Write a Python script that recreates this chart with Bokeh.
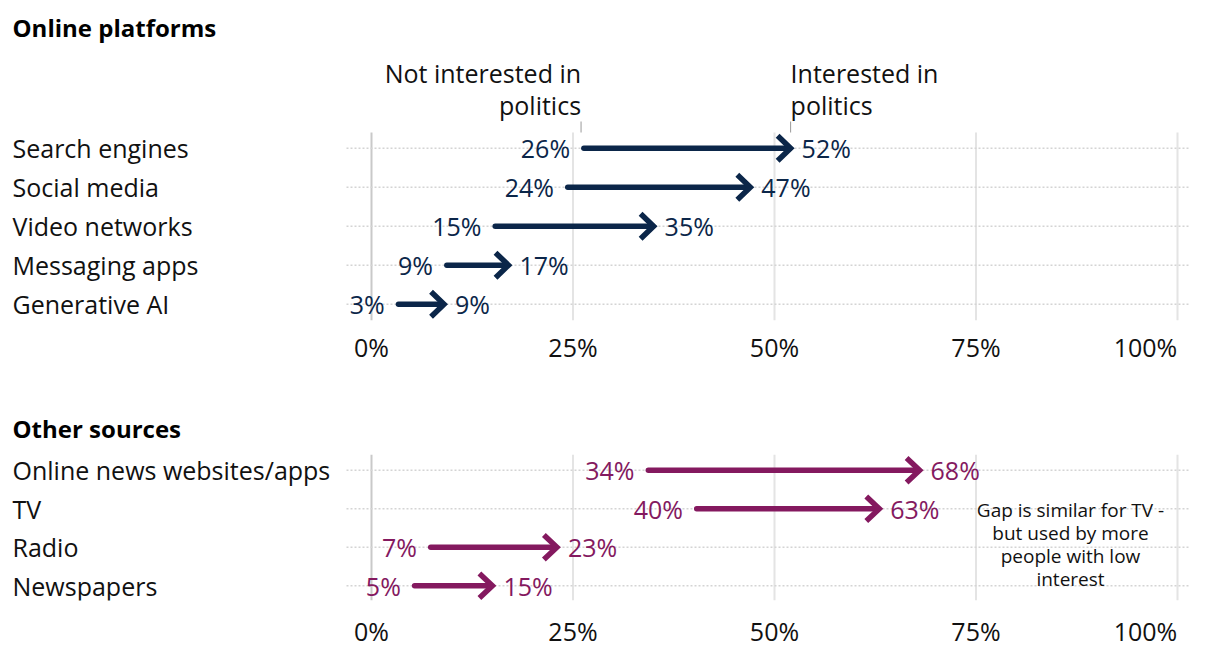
from bokeh.plotting import figure
from bokeh.layouts import column
from bokeh.models import ColumnDataSource, Range1d, FixedTicker
from bokeh.core.properties import value
from bokeh.embed import file_html
from bokeh.resources import INLINE

# ---------------- data ----------------
online_cats = ["Search engines", "Social media", "Video networks", "Messaging apps", "Generative AI"]
online_not_interested = [26, 24, 15, 9, 3]
online_interested = [52, 47, 35, 17, 9]

other_cats = ["Online news websites/apps", "TV", "Radio", "Newspapers"]
other_not_interested = [34, 40, 7, 5]
other_interested = [68, 63, 23, 15]

tick_values = [0, 25, 50, 75, 100]
tick_labels = ["0%", "25%", "50%", "75%", "100%"]

panel_titles = ["Online platforms", "Other sources"]
left_note = ["Not interested in", "politics"]
right_note = ["Interested in", "politics"]
tv_note = ["Gap is similar for TV -", "but used by more", "people with low", "interest"]

# ---------------- style / layout ----------------
FONT = "Open Sans"
NAVY = "#0b2649"
PURPLE = "#84195f"
TEXT = "#111111"
W = 1204
ORIGIN = 0                 # page position of the figures' top-left corner
PX_PER_PCT = 8.06          # horizontal scale
ZERO_PAGE_X = 371          # page x of 0%
X_START = (ORIGIN - ZERO_PAGE_X) / PX_PER_PCT
X_END = (ORIGIN + W - ZERO_PAGE_X) / PX_PER_PCT
LABEL_X = (12 - ZERO_PAGE_X) / PX_PER_PCT
DOT_X0 = (346 - ZERO_PAGE_X) / PX_PER_PCT
DOT_X1 = (1188 - ZERO_PAGE_X) / PX_PER_PCT
FS = "25px"
LAST_LABEL_HALF_W = 32     # px: the last tick label is pulled inside, ending at its gridline


def make_panel(cats, lo, hi, color, fig_top, frame_bottom, row0, step, border_bottom,
               title, grid_top, standoff):
    def yd(page_y):
        return (page_y - row0) / step

    frame_h = frame_bottom - fig_top
    p = figure(width=W, height=frame_h + border_bottom,
               x_range=Range1d(X_START, X_END),
               y_range=Range1d(yd(frame_bottom), yd(fig_top)),
               output_backend="svg", toolbar_location=None, title=None,
               y_axis_location=None,
               min_border_left=0, min_border_right=0, min_border_top=0,
               min_border_bottom=border_bottom)
    p.outline_line_color = None
    p.xgrid.visible = False
    p.ygrid.visible = False
    p.background_fill_color = "white"
    p.border_fill_color = "white"

    # axis (last label kept inside the chart, right edge on its gridline)
    label_pos = list(tick_values[:-1]) + [tick_values[-1] - LAST_LABEL_HALF_W / PX_PER_PCT]
    ax = p.xaxis[0]
    ax.ticker = FixedTicker(ticks=label_pos)
    ax.major_label_overrides = {v: l for v, l in zip(label_pos, tick_labels)}
    ax.axis_line_color = None
    ax.major_tick_line_color = None
    ax.minor_tick_line_color = None
    ax.major_label_text_font = FONT
    ax.major_label_text_font_size = FS
    ax.major_label_text_color = TEXT
    ax.major_label_standoff = standoff

    n = len(cats)
    ys = list(range(n))

    # vertical grid lines
    gsrc = ColumnDataSource(dict(
        x=tick_values,
        y0=[yd(grid_top)] * len(tick_values),
        y1=[yd(frame_bottom)] * len(tick_values),
        c=["#c9c9c9" if v == 0 else "#e4e4e4" for v in tick_values]))
    p.segment(x0="x", y0="y0", x1="x", y1="y1", line_color="c", line_width=2, source=gsrc)

    # dotted row guides
    p.segment(x0=[DOT_X0] * n, y0=ys, x1=[DOT_X1] * n, y1=ys,
              line_color="#d4d4d4", line_width=1.5, line_dash="2 2")

    src = ColumnDataSource(dict(
        cat=cats, y=ys, lo=lo, hi=hi,
        lo_lab=[f"{v}%" for v in lo], hi_lab=[f"{v}%" for v in hi]))

    # row labels
    p.text(x=LABEL_X, y="y", text="cat", source=src, text_font=value(FONT),
           text_font_size=FS, text_color=TEXT, text_baseline="middle", text_align="left")

    # arrows: shaft
    shaft_pad0 = 2.8 / PX_PER_PCT
    shaft_pad1 = 3 / PX_PER_PCT
    p.segment(x0=[v + shaft_pad0 for v in lo], y0=ys, x1=[v - shaft_pad1 for v in hi], y1=ys,
              line_color=color, line_width=5.5, line_cap="round")
    # arrows: chevron head
    dx = 13 / PX_PER_PCT
    dy = 12.5 / step
    hx = [[v - dx, v, v - dx] for v in hi]
    hy = [[y - dy, y, y + dy] for y in ys]
    p.multi_line(xs=hx, ys=hy, line_color=color, line_width=5.5, line_join="miter", line_cap="butt")

    # value labels
    p.text(x="lo", y="y", text="lo_lab", source=src, x_offset=-11, text_font=value(FONT),
           text_font_size=FS, text_color=color, text_baseline="middle", text_align="right")
    p.text(x="hi", y="y", text="hi_lab", source=src, x_offset=11, text_font=value(FONT),
           text_font_size=FS, text_color=color, text_baseline="middle", text_align="left")

    # panel title
    p.text(x=[LABEL_X], y=[yd(title[1])], text=[title[0]], text_font=value(FONT),
           text_font_size="24px", text_font_style="bold", text_color="#000000",
           text_baseline="middle", text_align="left")
    return p, yd


# top panel
p1, yd1 = make_panel(online_cats, online_not_interested, online_interested, NAVY,
                     fig_top=ORIGIN, frame_bottom=320, row0=147.7, step=39.0, border_bottom=50,
                     title=(panel_titles[0], 27), grid_top=132, standoff=3)

# "Not interested" / "Interested" annotations tied to first row
note_y = [yd1(72), yd1(104)]
p1.text(x=[online_not_interested[0]] * 2, y=note_y, text=left_note, text_font=value(FONT),
        text_font_size=FS, text_color=TEXT, text_baseline="middle", text_align="right")
p1.text(x=[online_interested[0]] * 2, y=note_y, text=right_note, text_font=value(FONT),
        text_font_size=FS, text_color=TEXT, text_baseline="middle", text_align="left")
p1.segment(x0=[online_not_interested[0], online_interested[0]], y0=[yd1(121)] * 2,
           x1=[online_not_interested[0], online_interested[0]], y1=[yd1(132)] * 2,
           line_color="#999999", line_width=1)

# bottom panel
p2, yd2 = make_panel(other_cats, other_not_interested, other_interested, PURPLE,
                     fig_top=370, frame_bottom=605, row0=472, step=39.3, border_bottom=45,
                     title=(panel_titles[1], 429), grid_top=456, standoff=7)
note_x = (1070 - ZERO_PAGE_X) / PX_PER_PCT
p2.text(x=[note_x] * len(tv_note), y=[yd2(513 + 23.5 * i) for i in range(len(tv_note))],
        text=tv_note, text_font=value(FONT), text_font_size="19px", text_color=TEXT,
        text_baseline="middle", text_align="center")

layout = column(p1, p2, spacing=0)
open("out.html", "w").write(file_html(layout, INLINE))
